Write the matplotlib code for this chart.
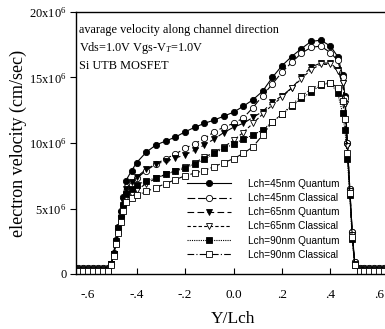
import matplotlib
matplotlib.use("Agg")
import matplotlib.pyplot as plt
import numpy as np

plt.rcParams['font.family'] = ['Liberation Serif', 'DejaVu Serif']
plt.rcParams['mathtext.fontset'] = 'custom'
plt.rcParams['mathtext.rm'] = 'Liberation Serif'
plt.rcParams['mathtext.it'] = 'Liberation Serif:italic'
plt.rcParams['mathtext.bf'] = 'Liberation Serif:bold'

# shared mesh (normalized position Y/Lch)
y_lch = [-0.64, -0.62, -0.60, -0.58, -0.56, -0.54, -0.52,
         -0.505, -0.495, -0.485, -0.475, -0.465, -0.455, -0.445,
         -0.42, -0.40,
         -0.36, -0.32, -0.28, -0.24, -0.20, -0.16, -0.12, -0.08, -0.04, 0.00,
         0.04, 0.08, 0.12, 0.16, 0.20, 0.24, 0.28, 0.32, 0.36, 0.40,
         0.43, 0.45, 0.46, 0.47, 0.48, 0.49, 0.50,
         0.52, 0.54, 0.56, 0.58, 0.60, 0.62, 0.64]

# velocities in units of 1e6 cm/s
v45_quantum = [0.45]*7 + [0.8, 1.6, 2.6, 3.6, 4.8, 5.9, 7.1, 7.9, 8.5,
               9.3, 9.85, 10.15, 10.45, 10.85, 11.2, 11.5, 11.75, 12.05, 12.35,
               12.8, 13.3, 13.95, 15.0, 15.9, 16.6, 17.2, 17.75, 17.85, 17.4,
               16.6, 15.2, 13.6, 10.0, 6.5, 3.2, 0.9] + [0.45]*7
v45_classical = [0.45]*7 + [0.8, 1.5, 2.5, 3.4, 4.4, 5.3, 6.1, 6.8, 7.3,
                 7.9, 8.4, 8.8, 9.15, 9.6, 9.95, 10.35, 10.85, 11.2, 11.5,
                 11.9, 12.7, 13.6, 14.5, 15.4, 16.15, 16.85, 17.3, 17.4, 16.9,
                 16.3, 15.0, 13.4, 10.0, 6.5, 3.2, 0.9] + [0.45]*7
v65_quantum = [0.4]*7 + [0.8, 1.5, 2.5, 3.5, 4.6, 5.6, 6.5, 7.0, 7.4,
               8.0, 8.4, 8.6, 8.85, 9.1, 9.45, 9.85, 10.3, 10.8, 11.2,
               11.5, 11.95, 12.4, 13.1, 13.6, 14.2, 15.0, 15.8, 16.1, 16.1,
               15.6, 14.6, 13.0, 9.8, 6.3, 3.0, 0.8] + [0.4]*7
v65_classical = [0.4]*7 + [0.8, 1.5, 2.4, 3.3, 4.3, 5.1, 5.8, 6.1, 6.4,
                 6.9, 7.3, 7.6, 7.9, 8.2, 8.5, 8.9, 9.3, 9.7, 10.2,
                 10.8, 11.5, 12.2, 12.9, 13.5, 14.2, 14.9, 15.6, 16.0, 16.0,
                 15.5, 14.6, 13.0, 9.8, 6.3, 3.0, 0.8] + [0.4]*7
v90_quantum = [0.3]*7 + [0.8, 1.5, 2.4, 3.3, 4.3, 5.3, 6.1, 6.5, 6.8,
               7.1, 7.35, 7.6, 7.85, 8.1, 8.4, 8.75, 9.2, 9.6, 9.9,
               10.3, 10.6, 11.0, 11.6, 12.2, 12.8, 13.4, 13.9, 14.4, 14.6,
               13.8, 12.3, 11.0, 8.8, 6.0, 2.7, 0.7] + [0.3]*7
v90_classical = [0.25]*7 + [0.7, 1.4, 2.3, 3.1, 4.0, 4.8, 5.5, 5.8, 6.0,
                 6.3, 6.6, 6.9, 7.2, 7.5, 7.7, 7.9, 8.2, 8.5, 8.8,
                 9.2, 9.7, 10.6, 11.6, 12.2, 12.9, 13.6, 14.1, 14.5, 14.6,
                 14.2, 13.2, 11.8, 9.2, 6.2, 2.8, 0.7] + [0.25]*7

labels = ['Lch=45nm Quantum', 'Lch=45nm Classical', 'Lch=65nm Quantum',
          'Lch=65nm Classical', 'Lch=90nm Quantum', 'Lch=90nm Classical']
series = [v45_quantum, v45_classical, v65_quantum, v65_classical,
          v90_quantum, v90_classical]
markers = ['o', 'o', 'v', 'v', 's', 's']
filled = [True, False, True, False, True, False]
styles = ['-', (0, (7, 2.5)), (0, (6, 3)), (0, (3, 2)), (0, (1, 1)),
          (0, (6, 2, 1, 2))]

fig = plt.figure(figsize=(3.85, 3.29), dpi=100)
ax = fig.add_axes([76/385, 1-274/329, 315/385, 262/329])

x = np.array(y_lch)
for vals, lab, m, f, ls in zip(series, labels, markers, filled, styles):
    ax.plot(x, np.array(vals)*1e6, color='black', lw=0.8, linestyle=ls,
            marker=m, markersize=4.5, markeredgewidth=0.6,
            markerfacecolor='black' if f else 'white',
            markeredgecolor='black', label=lab)

ax.set_xlim(-0.65, 0.65)
ax.set_ylim(0, 20e6)
ax.spines['right'].set_visible(False)
for s in ('top', 'left', 'bottom'):
    ax.spines[s].set_linewidth(1.0)

xt = [-0.6, -0.4, -0.2, 0.0, 0.2, 0.4, 0.6]
xtl = ['-.6', '-.4', '-.2', '0.0', '.2', '.4', '.6']
ax.set_xticks(xt)
ax.set_xticklabels(xtl)
yt = [0, 5e6, 10e6, 15e6, 20e6]
ytl = ['0', r'5x10$^6$', r'10x10$^6$', r'15x10$^6$', r'20x10$^6$']
ax.set_yticks(yt)
ax.set_yticklabels(ytl)
ax.tick_params(axis='x', direction='in', length=4, width=0.8, labelsize=9.5, pad=11)
ax.tick_params(axis='y', direction='out', length=4, width=0.8, labelsize=9, pad=3)

ax.set_xlabel('Y/Lch', fontsize=12.5, labelpad=7)
ax.set_ylabel('electron velocity (cm/sec)', fontsize=13, labelpad=1)

ax.text(0.01, 0.955, 'avarage velocity along channel direction', transform=ax.transAxes,
        fontsize=8.8, va='top', ha='left')
ax.text(0.01, 0.893, r'Vds=1.0V Vgs-V$_T$=1.0V', transform=ax.transAxes,
        fontsize=8.8, va='top', ha='left')
ax.text(0.01, 0.815, 'Si UTB MOSFET', transform=ax.transAxes,
        fontsize=8.8, va='top', ha='left')

leg = ax.legend(loc='upper left', bbox_to_anchor=(0.33, 0.39), frameon=False,
                prop={'family': 'Liberation Sans', 'size': 7.2},
                handlelength=4.4, labelspacing=0.42, handletextpad=1.7,
                borderpad=0.2)

fig.savefig('out.png', dpi=100)
